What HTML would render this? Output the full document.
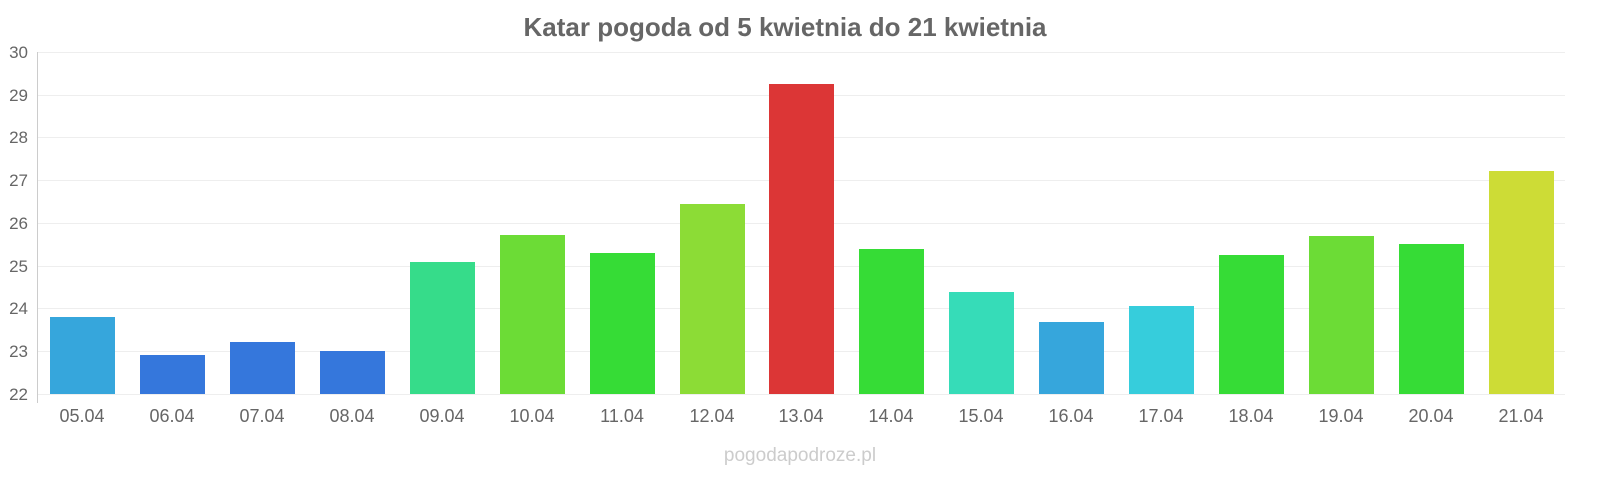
<!DOCTYPE html>
<html><head><meta charset="utf-8"><style>
body{margin:0;background:#fff;}
svg{display:block;font-family:"Liberation Sans",sans-serif;}
</style></head><body>
<svg width="1600" height="480" xmlns="http://www.w3.org/2000/svg">
<text x="785" y="36" text-anchor="middle" font-size="26" font-weight="bold" fill="#666">Katar pogoda od 5 kwietnia do 21 kwietnia</text>
<g stroke="#eee" stroke-width="1">
<line x1="38" x2="1565" y1="52.5" y2="52.5"/><line x1="38" x2="1565" y1="95.5" y2="95.5"/>
<line x1="38" x2="1565" y1="137.5" y2="137.5"/><line x1="38" x2="1565" y1="180.5" y2="180.5"/>
<line x1="38" x2="1565" y1="223.5" y2="223.5"/><line x1="38" x2="1565" y1="266.5" y2="266.5"/>
<line x1="38" x2="1565" y1="308.5" y2="308.5"/><line x1="38" x2="1565" y1="351.5" y2="351.5"/>
<line x1="38" x2="1565" y1="394.5" y2="394.5"/>
</g>
<line x1="37.5" x2="37.5" y1="52" y2="403" stroke="#ccc"/>
<g font-size="17" fill="#666" text-anchor="end">
<text x="28" y="58">30</text><text x="28" y="101">29</text><text x="28" y="143">28</text>
<text x="28" y="186">27</text><text x="28" y="229">26</text><text x="28" y="272">25</text>
<text x="28" y="314">24</text><text x="28" y="357">23</text><text x="28" y="400">22</text>
</g>
<g>
<rect x="50" y="317" width="65" height="77" fill="#36a6dc"/>
<rect x="140" y="355" width="65" height="39" fill="#3577dc"/>
<rect x="230" y="342" width="65" height="52" fill="#3577dc"/>
<rect x="320" y="351" width="65" height="43" fill="#3577dc"/>
<rect x="410" y="262" width="65" height="132" fill="#36dc8a"/>
<rect x="500" y="235" width="65" height="159" fill="#6cdc36"/>
<rect x="590" y="253" width="65" height="141" fill="#36dc36"/>
<rect x="680" y="204" width="65" height="190" fill="#8cdc36"/>
<rect x="769" y="84" width="65" height="310" fill="#dc3636"/>
<rect x="859" y="249" width="65" height="145" fill="#36dc36"/>
<rect x="949" y="292" width="65" height="102" fill="#36dcb8"/>
<rect x="1039" y="322" width="65" height="72" fill="#36a6dc"/>
<rect x="1129" y="306" width="65" height="88" fill="#36cddc"/>
<rect x="1219" y="255" width="65" height="139" fill="#36dc36"/>
<rect x="1309" y="236" width="65" height="158" fill="#6cdc36"/>
<rect x="1399" y="244" width="65" height="150" fill="#36dc36"/>
<rect x="1489" y="171" width="65" height="223" fill="#cddc36"/>
</g>
<g font-size="18" fill="#666" text-anchor="middle">
<text x="82" y="422">05.04</text><text x="172" y="422">06.04</text><text x="262" y="422">07.04</text>
<text x="352" y="422">08.04</text><text x="442" y="422">09.04</text><text x="532" y="422">10.04</text>
<text x="622" y="422">11.04</text><text x="712" y="422">12.04</text><text x="801" y="422">13.04</text>
<text x="891" y="422">14.04</text><text x="981" y="422">15.04</text><text x="1071" y="422">16.04</text>
<text x="1161" y="422">17.04</text><text x="1251" y="422">18.04</text><text x="1341" y="422">19.04</text>
<text x="1431" y="422">20.04</text><text x="1521" y="422">21.04</text>
</g>
<text x="800" y="461" text-anchor="middle" font-size="19" fill="#ccc">pogodapodroze.pl</text>
</svg>
</body></html>
